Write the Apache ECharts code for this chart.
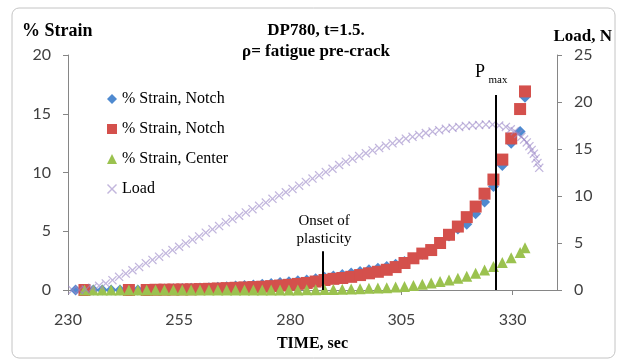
<!DOCTYPE html>
<html>
<head>
<meta charset="utf-8">
<script src="https://cdn.jsdelivr.net/npm/echarts@6/dist/echarts.min.js"></script>
<style>
html, body { margin: 0; padding: 0; background: #fff; }
#container { width: 618px; height: 363px; }
</style>
</head>
<body>
<div id="container"></div>
<script>
// time (sec) of the strain samples
var strainTime = [231.7, 233.7, 235.7, 237.7, 239.7, 241.7, 243.7, 245.7, 247.7, 249.7,
    251.7, 253.7, 255.7, 257.7, 259.7, 261.7, 263.7, 265.7, 267.7, 269.7,
    271.7, 273.7, 275.7, 277.7, 279.7, 281.7, 283.7, 285.7, 287.7, 289.7,
    291.7, 293.7, 295.7, 297.7, 299.7, 301.7, 303.7, 305.7, 307.7, 309.7,
    311.7, 313.7, 315.7, 317.7, 319.7, 321.7, 323.7, 325.7, 327.7, 329.7,
    331.7, 332.8];
// % strain, notch (blue diamonds)
var notchBlue = [0.0, 0.0, 0.0, 0.0, 0.0, 0.0, 0.0, 0.0, 0.05, 0.07,
    0.08, 0.1, 0.12, 0.14, 0.16, 0.2, 0.24, 0.28, 0.33, 0.38,
    0.43, 0.5, 0.56, 0.63, 0.7, 0.78, 0.86, 0.96, 1.08, 1.2,
    1.32, 1.45, 1.58, 1.72, 1.86, 2.0, 2.2, 2.42, 2.7, 3.05,
    3.4, 3.95, 4.6, 5.2, 5.6, 6.5, 7.5, 8.8, 10.6, 12.5,
    13.5, 16.4];
// % strain, notch (red squares)
var notchRed = [null, 0.0, null, null, null, null, 0.0, -0.3, 0.0, 0.02,
    0.03, 0.04, 0.05, 0.06, 0.08, 0.1, 0.13, 0.16, 0.19, 0.22,
    0.25, 0.28, 0.33, 0.38, 0.44, 0.52, 0.6, 0.72, 0.85, 0.95,
    1.02, 1.12, 1.27, 1.42, 1.55, 1.72, 1.95, 2.3, 2.7, 3.1,
    3.4, 4.0, 4.7, 5.4, 6.2, 7.1, 8.2, 9.4, 11.1, 12.9,
    15.4, 16.9];
// % strain, center (green triangles)
var center = [null, 0.0, 0.0, 0.0, 0.0, 0.0, 0.0, 0.0, 0.0, 0.0,
    0.0, 0.0, 0.0, 0.0, 0.0, 0.0, 0.0, 0.0, 0.0, 0.0,
    0.0, 0.0, 0.0, 0.0, 0.0, 0.0, 0.02, 0.03, 0.04, 0.05,
    0.07, 0.09, 0.11, 0.14, 0.17, 0.2, 0.25, 0.3, 0.38, 0.48,
    0.6, 0.72, 0.85, 1.0, 1.18, 1.42, 1.7, 2.0, 2.35, 2.75,
    3.2, 3.6];

// load (N) samples
var loadTime = [231, 232.5, 234, 235.5, 237, 238.5, 240, 241.5, 243, 244.5,
    246, 247.5, 249, 250.5, 252, 253.5, 255, 256.5, 258, 259.5,
    261, 262.5, 264, 265.5, 267, 268.5, 270, 271.5, 273, 274.5,
    276, 277.5, 279, 280.5, 282, 283.5, 285, 286.5, 288, 289.5,
    291, 292.5, 294, 295.5, 297, 298.5, 300, 301.5, 303, 304.5,
    306, 307.5, 309, 310.5, 312, 313.5, 315, 316.5, 318, 319.5,
    321, 322.5, 324, 325.5, 327, 328.5, 329.6, 330.5, 331.3, 332,
    332.6, 333.2, 333.8, 334.3, 334.8, 335.2, 335.6, 336];
var load = [0.0, 0.0, 0.05, 0.25, 0.45, 0.7, 1.05, 1.4, 1.75, 2.1,
    2.45, 2.85, 3.2, 3.55, 3.9, 4.25, 4.6, 4.95, 5.35, 5.7,
    6.1, 6.45, 6.8, 7.2, 7.55, 7.9, 8.25, 8.6, 8.95, 9.3,
    9.7, 10.05, 10.4, 10.75, 11.1, 11.5, 11.85, 12.2, 12.55, 12.9,
    13.3, 13.65, 13.95, 14.25, 14.55, 14.85, 15.1, 15.35, 15.6, 15.85,
    16.1, 16.3, 16.5, 16.7, 16.85, 17.0, 17.15, 17.25, 17.35, 17.45,
    17.5, 17.55, 17.6, 17.6, 17.5, 17.35, 17.1, 16.9, 16.6, 16.3,
    16.0, 15.7, 15.3, 14.9, 14.5, 14.0, 13.5, 13.0];

var onsetTime = 287.4, onsetTop = 3.3;
var pmaxTime = 326.3, pmaxTop = 16.6;

function pairs(xs, ys) {
    var out = [];
    for (var i = 0; i < xs.length; i++) {
        if (ys[i] !== null) out.push([xs[i], ys[i]]);
    }
    return out;
}

var serif = 'Liberation Serif';
var sans = 'Lato';
var xMark = 'path://M0,1L1,0L5,4L9,0L10,1L6,5L10,9L9,10L5,6L1,10L0,9L4,5Z';

var myChart = echarts.init(document.getElementById('container'));
var axisColor = '#868686';
var option = {
    animation: false,
    grid: { left: 68, right: 61, top: 55, bottom: 73 },
    legend: {
        orient: 'vertical',
        left: 102,
        top: 86,
        itemGap: 14,
        itemWidth: 10,
        itemHeight: 10,
        textStyle: { fontFamily: serif, fontSize: 16, color: '#000' },
        data: ['% Strain, Notch', '% Strain, Notch ', '% Strain, Center', 'Load']
    },
    xAxis: {
        type: 'value',
        min: 230,
        max: 340,
        interval: 25,
        name: 'TIME, sec',
        nameLocation: 'middle',
        nameGap: 46,
        nameTextStyle: { fontFamily: serif, fontWeight: 'bold', fontSize: 16, color: '#000' },
        axisLine: { show: true, onZero: false, lineStyle: { color: axisColor } },
        axisTick: { show: true, length: 5, lineStyle: { color: axisColor } },
        axisLabel: { showMaxLabel: false, margin: 22, fontFamily: sans, fontSize: 16, color: '#404040' },
        splitLine: { show: false }
    },
    yAxis: [{
        type: 'value',
        min: 0,
        max: 20,
        interval: 5,
        axisLine: { show: true, lineStyle: { color: axisColor } },
        axisTick: { show: true, length: 5, lineStyle: { color: axisColor } },
        axisLabel: { margin: 17, fontFamily: sans, fontSize: 16, color: '#404040' },
        splitLine: { show: false }
    }, {
        type: 'value',
        position: 'right',
        min: 0,
        max: 25,
        interval: 5,
        axisLine: { show: true, lineStyle: { color: axisColor } },
        axisTick: { show: true, length: 5, lineStyle: { color: axisColor } },
        axisLabel: { margin: 17, fontFamily: sans, fontSize: 16, color: '#404040' },
        splitLine: { show: false }
    }],
    series: [{
        name: '% Strain, Notch',
        type: 'scatter',
        symbol: 'diamond',
        symbolSize: 11,
        itemStyle: { color: '#4f8ad0', opacity: 1 },
        data: pairs(strainTime, notchBlue)
    }, {
        name: '% Strain, Notch ',
        type: 'scatter',
        symbol: 'rect',
        symbolSize: 12,
        itemStyle: { color: '#d4504c', opacity: 1 },
        data: pairs(strainTime, notchRed),
        markLine: {
            silent: true,
            symbol: ['none', 'none'],
            label: { show: false },
            lineStyle: { color: '#000', width: 2, type: 'solid' },
            data: [
                [{ coord: [onsetTime, 0] }, { coord: [onsetTime, onsetTop] }],
                [{ coord: [pmaxTime, 0] }, { coord: [pmaxTime, pmaxTop] }]
            ]
        }
    }, {
        name: '% Strain, Center',
        type: 'scatter',
        symbol: 'triangle',
        symbolSize: 11,
        itemStyle: { color: '#9bc24f', opacity: 1 },
        data: pairs(strainTime, center)
    }, {
        name: 'Load',
        type: 'scatter',
        yAxisIndex: 1,
        symbol: xMark,
        symbolSize: 9,
        itemStyle: { color: '#9a86c6', opacity: 0.6 },
        data: pairs(loadTime, load)
    }],
    graphic: [
        { type: 'rect', shape: { x: 12, y: 8, width: 603, height: 350, r: 7 },
          style: { fill: 'none', stroke: '#c4c4c4', lineWidth: 1 }, silent: true },
        { type: 'text', x: 316, y: 31, style: { text: 'DP780, t=1.5.', fontFamily: serif, fontWeight: 'bold', fontSize: 17, fill: '#000', align: 'center', verticalAlign: 'middle' } },
        { type: 'text', x: 316, y: 52, style: { text: 'ρ= fatigue pre-crack', fontFamily: serif, fontWeight: 'bold', fontSize: 17, fill: '#000', align: 'center', verticalAlign: 'middle' } },
        { type: 'text', x: 22, y: 31, style: { text: '% Strain', fontFamily: serif, fontWeight: 'bold', fontSize: 18, fill: '#000', align: 'left', verticalAlign: 'middle' } },
        { type: 'text', x: 612, y: 37, style: { text: 'Load, N', fontFamily: serif, fontWeight: 'bold', fontSize: 17, fill: '#000', align: 'right', verticalAlign: 'middle' } },
        { type: 'text', x: 324, y: 221, style: { text: 'Onset of', fontFamily: serif, fontSize: 15, fill: '#000', align: 'center', verticalAlign: 'middle' } },
        { type: 'text', x: 324, y: 239, style: { text: 'plasticity', fontFamily: serif, fontSize: 15, fill: '#000', align: 'center', verticalAlign: 'middle' } },
        { type: 'text', x: 480, y: 72, style: { text: 'P', fontFamily: serif, fontSize: 18, fill: '#000', align: 'center', verticalAlign: 'middle' } },
        { type: 'text', x: 498, y: 80, style: { text: 'max', fontFamily: serif, fontSize: 11, fill: '#000', align: 'center', verticalAlign: 'middle' } }
    ]
};
myChart.setOption(option);
</script>
</body>
</html>
